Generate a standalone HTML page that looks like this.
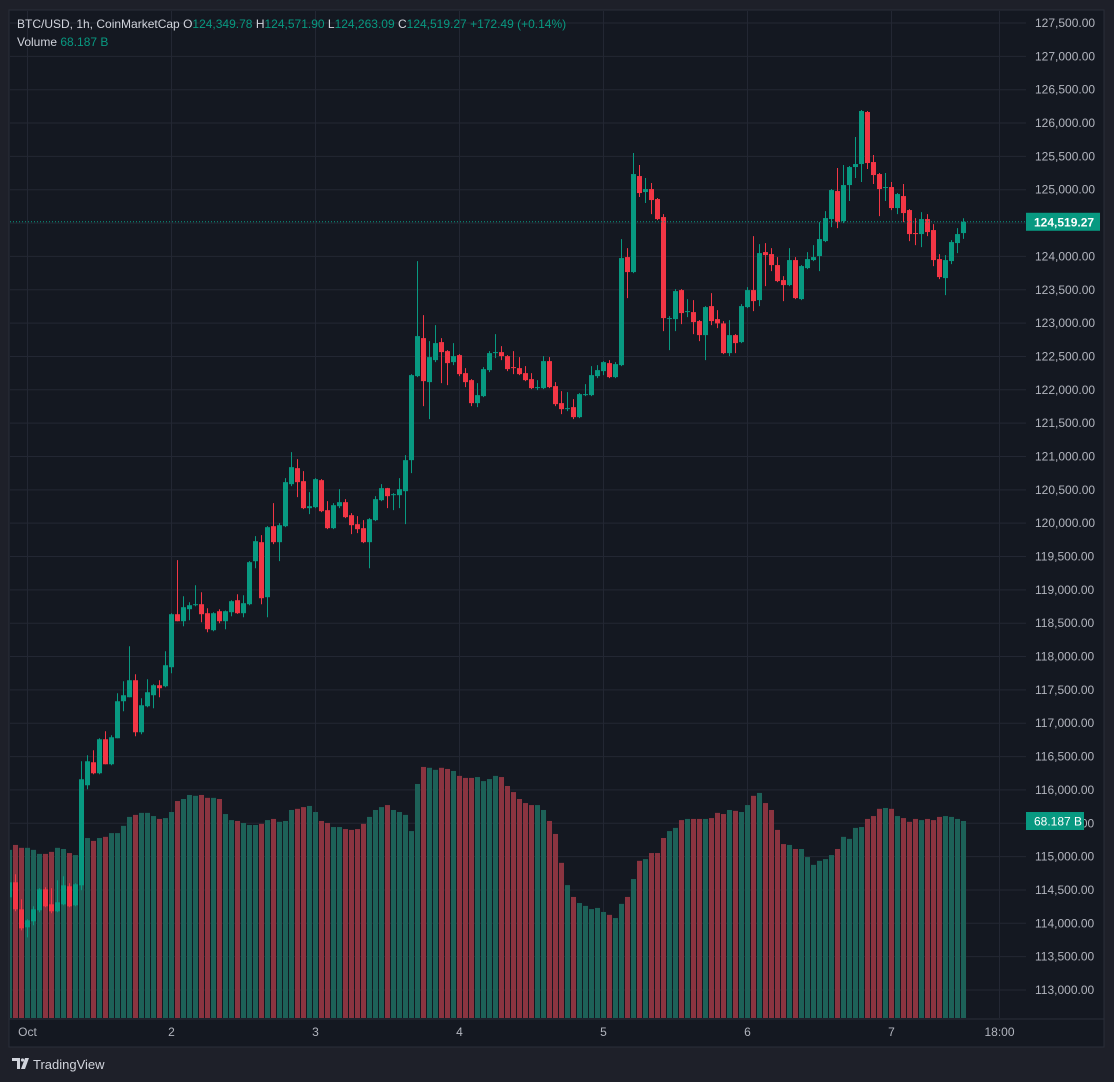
<!DOCTYPE html>
<html><head><meta charset="utf-8"><style>
html,body{margin:0;padding:0;background:#1e2029;}
svg{display:block;font-family:"Liberation Sans",sans-serif;}
</style></head><body>
<svg id="chart" width="1114" height="1082" viewBox="0 0 1114 1082" xmlns="http://www.w3.org/2000/svg">
<rect x="0" y="0" width="1114" height="1082" fill="#1e2029"/>
<rect x="9" y="10" width="1095" height="1037" fill="#141821" stroke="#2a2e39" stroke-width="1"/>
<line x1="9" y1="1019" x2="1104" y2="1019" stroke="#2a2e39"/>
<g id="grid"></g>
<g id="vol" clip-path="url(#clipc)"></g>
<g id="candles" clip-path="url(#clipc)"></g>
<defs><clipPath id="clipc"><rect x="10" y="11" width="1016" height="1007"/></clipPath></defs>
<g id="yaxis"></g>
<g id="xaxis"></g>
<g id="header" font-size="12">
<text x="17" y="28" fill="#d1d4dc">BTC/USD, 1h, CoinMarketCap <tspan fill="#d1d4dc">O</tspan><tspan fill="#089981">124,349.78</tspan> <tspan fill="#d1d4dc">H</tspan><tspan fill="#089981">124,571.90</tspan> <tspan fill="#d1d4dc">L</tspan><tspan fill="#089981">124,263.09</tspan> <tspan fill="#d1d4dc">C</tspan><tspan fill="#089981">124,519.27</tspan> <tspan fill="#089981">+172.49 (+0.14%)</tspan></text>
<text x="17" y="46" fill="#d1d4dc">Volume <tspan fill="#089981">68.187 B</tspan></text>
</g>
<g>
<path d="M12 1058h8v11h-3v-8h-5z M21 1069l4-11h4l-4 11z" fill="#d1d4dc"/>
<circle cx="22.5" cy="1060" r="1.6" fill="#d1d4dc"/>
<text x="33" y="1069" fill="#d1d4dc" font-size="13">TradingView</text>
</g>
</svg>
<script>
const opens=[114390,114615,114210,113940,114030,114195,114510,114285,114180,114285,114555,114270,114570,116070,116415,116250,116760,116385,116775,117330,117390,117645,116865,117255,117420,117570,117555,117840,118635,118530,118710,118770,118785,118650,118395,118680,118530,118665,118845,118650,118785,119430,119715,118890,119955,119715,119955,120585,120825,120630,120225,120240,120645,120195,119925,120255,120315,120120,119985,119925,119715,120045,120345,120525,120420,120420,120480,120945,122205,122775,122115,122445,122715,122580,122415,122520,122250,122145,121800,121905,122295,122550,122565,122505,122340,122325,122250,122160,122025,122025,122430,122055,121800,121710,121740,121590,121920,121920,122205,122280,122400,122190,122370,123990,123765,125205,124965,125010,124860,124590,123060,123060,123495,123165,123165,123030,122820,123255,123060,122995,122550,122820,122715,123240,123495,123345,124065,124035,123870,123645,123570,123945,123360,123825,123945,124005,124230,124560,124980,124530,125070,125340,125385,126165,125415,125235,125025,125040,124725,124905,124695,124350,124335,124560,124395,123960,123675,123930,124200,124349.78];
const highs=[114675,114735,114360,114060,114255,114525,114540,114525,114645,114705,114600,114600,116430,116520,116595,116775,116880,116820,117450,117630,118155,117735,117375,117660,117585,117645,118080,118650,119445,118905,118815,119070,118965,118725,118665,118710,118690,118845,118935,118920,119430,119805,119820,119955,120300,120000,120675,121065,120960,120780,120465,120675,120660,120330,120300,120510,120360,120150,120105,120045,120075,120405,120585,120530,120450,120675,121020,122235,123930,123120,122730,122970,122775,122595,122700,122535,122325,122160,122100,122340,122580,122835,122655,122520,122580,122490,122355,122250,122145,122505,122490,122115,121980,121965,121860,121950,122085,122355,122370,122430,122445,122415,124260,124125,125550,125370,125175,125100,124875,124635,123105,123510,123510,123360,123345,123045,123255,123450,123195,123030,123045,122835,123285,123540,124305,124185,124200,124125,123990,123705,124125,123990,123870,124065,124170,124515,124680,125010,125325,125370,125355,125790,126195,126180,125520,125250,125250,125115,124950,125085,124710,124575,124665,124635,124485,124035,124020,124245,124425,124571.90];
const lows=[114345,114180,113895,113790,113970,114165,114240,114150,114165,114270,114240,114255,114495,116010,116235,116235,116385,116370,116775,117180,117390,116805,116835,117240,117225,117390,117540,117750,118530,118455,118545,118755,118515,118365,118380,118500,118410,118605,118640,118590,118770,119325,118785,118590,119685,119430,119940,120555,120390,120210,120135,120225,120165,119910,119910,120225,120075,119835,119850,119700,119325,120030,120330,120225,120195,120225,119985,120750,122190,121755,121560,122415,122100,122070,122370,122205,122040,121755,121740,121890,122265,122475,122445,122280,122235,122220,122130,122010,121995,122010,122025,121755,121635,121680,121560,121575,121905,121905,122175,122220,122175,122175,122355,123375,123750,124890,124800,124635,124545,122880,122595,122880,122985,123090,122835,122730,122445,122970,122925,122535,122505,122550,122700,123225,123180,123255,123555,123780,123615,123330,123555,123360,123345,123810,123930,123780,124215,124440,124425,124500,124830,125175,125115,125310,125085,124605,124830,124695,124635,124515,124230,124170,124140,124305,123855,123660,123420,123885,124050,124263.09];
const closes=[114615,114210,113925,114045,114210,114510,114255,114180,114315,114570,114255,114585,116160,116430,116250,116760,116385,116790,117330,117420,117645,116865,117270,117465,117570,117525,117870,118635,118530,118740,118770,118785,118635,118410,118650,118530,118680,118830,118650,118800,119415,119730,118875,119940,119715,119970,120615,120840,120615,120225,120255,120660,120180,119925,120270,120315,120090,119970,119910,119715,120060,120360,120525,120405,120435,120510,120945,122220,122805,122130,122490,122700,122565,122400,122505,122235,122115,121800,121920,122310,122550,122565,122505,122310,122325,122235,122145,122025,122040,122430,122040,121785,121710,121725,121590,121935,121935,122220,122295,122415,122190,122385,123975,123765,125235,124950,125010,124845,124560,123075,123075,123480,123150,123180,123015,122820,123240,123030,122995,122550,122820,122700,123255,123495,123330,124050,124020,123870,123630,123570,123945,123375,123855,123960,123990,124260,124575,124995,124515,125070,125340,125385,126180,125400,125220,125010,125040,124725,124935,124650,124335,124335,124560,124365,123945,123690,123945,124215,124335,124519.27];
const volumes=[58.2,59.9,58.9,58.9,58.2,56.8,56.8,57.5,58.9,58.5,57.1,56.4,61.6,62.3,61.3,62.3,62.7,64.0,64.0,66.5,69.6,70.3,71.0,71.0,69.9,68.9,69.2,71.3,75.1,75.8,77.2,76.9,77.2,76.2,76.2,75.8,70.6,68.5,68.2,67.5,66.8,66.8,67.2,68.5,68.9,67.9,68.2,72.0,72.4,73.0,73.4,71.3,68.2,67.5,66.1,66.1,65.4,65.1,65.4,67.2,69.6,72.0,73.0,73.7,72.0,71.3,70.3,64.7,81.0,86.9,86.6,85.9,86.6,86.2,85.5,83.8,83.1,83.1,83.4,82.0,82.7,83.8,83.4,80.3,78.2,75.8,74.4,73.7,73.7,72.0,68.2,63.7,53.7,46.0,41.9,39.8,38.8,37.7,38.1,36.7,35.7,34.6,39.5,41.9,48.1,54.4,55.0,57.1,57.1,62.3,64.7,65.8,68.5,68.9,68.9,68.9,68.9,69.2,71.0,70.6,72.0,71.7,71.3,73.7,76.9,77.9,74.4,72.0,65.1,60.2,59.9,58.5,58.5,55.7,53.0,54.4,55.0,56.4,58.5,62.7,62.0,65.8,66.1,68.9,69.9,72.4,72.7,72.4,69.9,69.2,67.9,68.9,68.5,68.9,68.5,69.6,69.9,69.6,68.9,68.187];
const priceTicks=[113000,113500,114000,114500,115000,115500,116000,116500,117000,117500,118000,118500,119000,119500,120000,120500,121000,121500,122000,122500,123000,123500,124000,124500,125000,125500,126000,126500,127000,127500];
const timeLabels=["Oct","2","3","4","5","6","7","18:00"];
const timeHours=[0,24,48,72,96,120,144,162];
const firstHourOffset=-3;

const NS="http://www.w3.org/2000/svg";
const yP=p=>23+(127500-p)*(967/14500);
const xI=i=>9.5+6*i;
const xH=h=>xI(h-firstHourOffset);
const yV=v=>1018-v*(197/68.187);
function mk(tag,attrs,parent){const e=document.createElementNS(NS,tag);for(const k in attrs)e.setAttribute(k,attrs[k]);parent.appendChild(e);return e;}
const grid=document.getElementById('grid'),yax=document.getElementById('yaxis'),xax=document.getElementById('xaxis');
const vg=document.getElementById('vol'),cg=document.getElementById('candles');
const fmt=p=>p.toLocaleString('en-US',{minimumFractionDigits:2,maximumFractionDigits:2});
priceTicks.forEach(p=>{
  const y=yP(p);
  const l=mk('line',{x1:10,x2:1026,y1:y,y2:y,stroke:'#232733','stroke-width':1},grid);
  
  
  const t=mk('text',{x:1035,y:y+4,fill:'#b2b5be','font-size':12},yax);
  t.textContent=fmt(p);
  
  
});
timeLabels.forEach((s,k)=>{
  const x=xH(timeHours[k]);
  const l=mk('line',{x1:x,x2:x,y1:11,y2:1018,stroke:'#232733','stroke-width':1},grid);
  
  
  const t=mk('text',{x:x,y:1036,fill:'#b2b5be','font-size':12,'text-anchor':'middle'},xax);
  t.textContent=s;
  
  
});
volumes.forEach((v,i)=>{
  const up=closes[i]>=opens[i];
  const r=mk('rect',{x:xI(i)-2.5,y:yV(v),width:5,height:1018-yV(v),fill:up?'#1d6158':'#8a3440'},vg);
  
  
});
opens.forEach((o,i)=>{
  const c=closes[i],up=c>=o,col=up?'#089981':'#f23645',x=xI(i);
  const g=mk('g',{},cg);
  
  
  mk('line',{x1:x,x2:x,y1:yP(highs[i]),y2:yP(lows[i]),stroke:col,'stroke-width':1},g);
  const top=yP(Math.max(o,c)),bot=yP(Math.min(o,c));
  mk('rect',{x:x-2.5,y:top,width:5,height:Math.max(1,bot-top),fill:col},g);
});
const last=closes[closes.length-1],ly=yP(last);
const dl=mk('line',{x1:10,x2:1026,y1:ly,y2:ly,stroke:'#089981','stroke-width':1,'stroke-dasharray':'1 2'},cg);


const pb=mk('g',{},yax);


mk('rect',{x:1026,y:ly-9,width:74,height:18,fill:'#089981'},pb);
mk('text',{x:1034,y:ly+4.5,fill:'#ffffff','font-size':12,'font-weight':'bold'},pb).textContent=fmt(last);
const lv=volumes[volumes.length-1],vy=yV(lv);
const vb=mk('g',{},yax);


mk('rect',{x:1026,y:vy-9,width:58,height:18,fill:'#089981'},vb);
mk('text',{x:1034,y:vy+4.5,fill:'#ffffff','font-size':12}, vb).textContent=lv.toFixed(3)+' B';
</script>
</body></html>
